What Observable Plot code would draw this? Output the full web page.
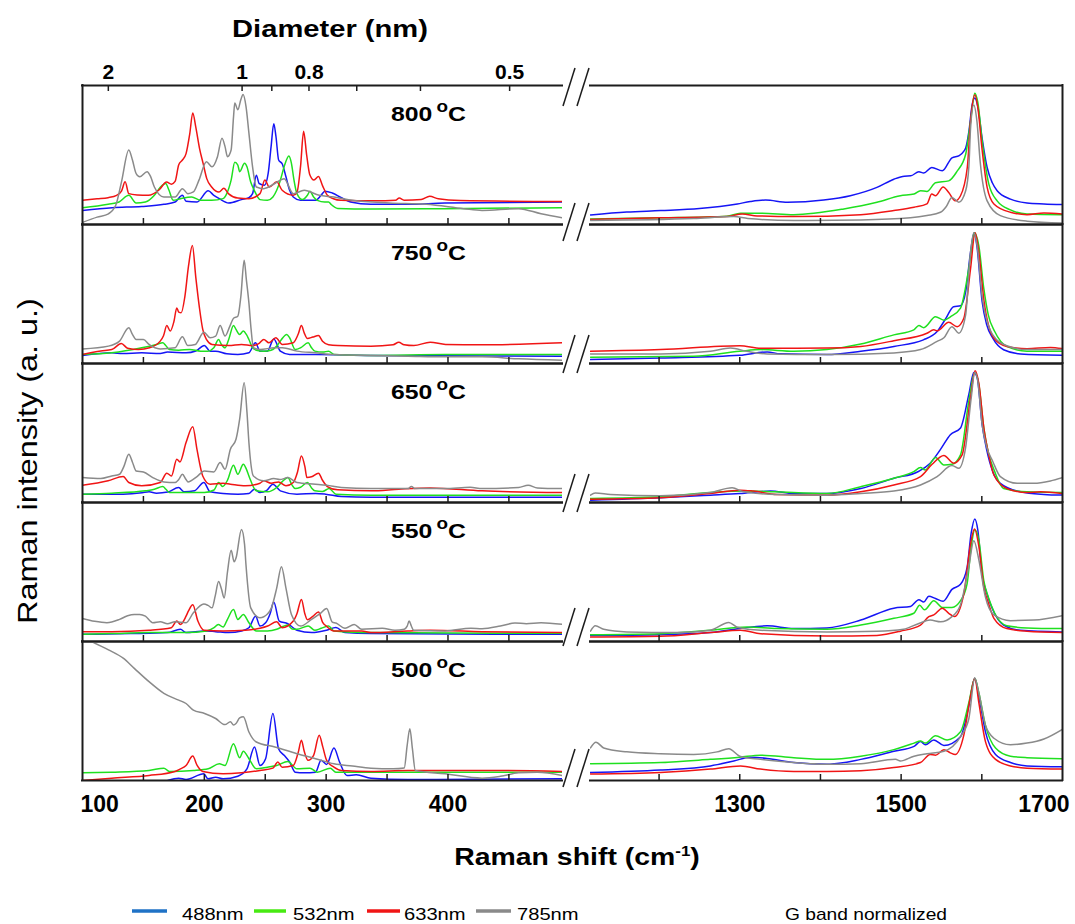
<!DOCTYPE html>
<html>
<head>
<meta charset="utf-8">
<script src="https://cdn.jsdelivr.net/npm/d3@7"></script>
<script src="https://cdn.jsdelivr.net/npm/@observablehq/plot@0.6"></script>
<style>
  html, body { margin: 0; padding: 0; background: #fff; }
  #fig { position: relative; width: 1075px; height: 924px; overflow: hidden; background: #fff; }
</style>
</head>
<body>
<div id="fig"></div>
<script>
// ---- Categories, tick values and labels ----
const temperatures = ["800", "750", "650", "550", "500"];           // growth temperature, °C
const lasers = ["488nm", "532nm", "633nm", "785nm"];                // excitation wavelengths
const lineColors = ["#1515f5", "#1fe01f", "#f01515", "#8a8a8a"];   // spectra colours
const legendColors = ["#1f72c6", "#47ea12", "#f01515", "#8a8a8a"]; // legend swatches
const rbmDomain = [100, 494];        // cm-1, radial breathing mode window
const gDomain = [1115, 1700];        // cm-1, D/G band window
const intensityDomain = [0, 100];    // a.u.
const rbmTicks = [150, 200, 250, 300, 350, 400, 450];
const rbmTickLabels = [100, 200, 300, 400];
const gTicks = [1200, 1300, 1400, 1500, 1600];
const gTickLabels = [1300, 1500, 1700];
const diameterTicks = [2, 1, 0.9, 0.8, 0.7, 0.6, 0.5];   // nm
const diameterLabels = [2, 1, 0.8, 0.5];
// RBM relation used for the diameter axis: shift = A / d + B
const rbmA = 219.6, rbmB = 11.4;

// ---- RBM spectra [Raman shift cm-1, intensity a.u.] ----
const rbm800_488 = [[100,10.1],[124.3,12.1],[148.6,13],[166.8,14.5],[176,16.2],[182,21],[185,16.7],[194,16.2],[203.2,24.2],[207.8,21],[212.3,18.6],[220,15.5],[230.5,17.9],[236.6,19.3],[239.6,22.2],[242.7,35.5],[245,29.5],[249.4,28.3],[252.4,36.7],[254.8,56],[257,72.5],[258.8,63.3],[261,46.4],[264,43.5],[267,34.3],[270,24.6],[273,19.8],[279,17.4],[291.3,17.4],[295.8,21],[299,24],[305,22.7],[312.5,19.3],[320,16.2],[336.8,14.5],[367,14.5],[397.5,15.5],[494,16.2]];
const rbm800_532 = [[100,12.1],[121,14.5],[130,16.2],[138,21],[144,15.5],[151.6,16.2],[159,21],[164,27],[168.3,29.5],[171,24.6],[174.4,17.4],[180.4,18.6],[189.6,19.8],[197,17.4],[206,17.4],[215.4,18.6],[218.4,22.2],[222,31.9],[225,44.7],[227.5,42.8],[229,38],[233,44],[235,41.5],[238,30.7],[241,24.6],[245.7,17.9],[251.8,17.4],[256.3,19.8],[259.4,24.6],[262.4,31.9],[265.5,41.5],[269.4,49.3],[271.5,44],[273.6,31.9],[276,22.2],[280.6,17.9],[284.6,21],[286.7,23.9],[289.7,19.8],[292.8,17.4],[298.8,16.2],[302,16.2],[304,14.5],[309.5,11.6],[336.8,11.1],[397.5,11.4],[494,12.1]];
const rbm800_633 = [[100,17.4],[112,18.5],[121,19.3],[128,21],[132,24],[135,30.7],[138,22.2],[145,21.3],[154,21],[163,25],[169,30.5],[173,29],[176,31],[179,43],[182,46.4],[185,51],[188,65],[190.5,80.2],[193,70],[196,55],[199,44],[202,33],[206,27],[212,23.4],[216,26],[220,22],[227.5,19],[236.6,18.6],[245.7,22.2],[249.7,32],[253.3,27],[259.4,30.7],[263.9,24.6],[273,21],[276,23],[279,42],[281.5,67],[284,50],[286.5,36],[290,32],[293.7,34.5],[297,28],[301,21],[306,18.5],[312,17.4],[340,17],[357,17.5],[360,19],[364,17.5],[378,18],[385,20.3],[392,18.5],[410,17.2],[494,16.5]];
const rbm800_785 = [[100.6,1.7],[112,5.3],[121.3,7.7],[127.3,13.8],[132,30.7],[138,53.6],[141,46.4],[144,36.7],[147,34.3],[153,38],[156,34.3],[159,27],[166.8,19.8],[176,19.8],[182,25.8],[186.5,22.2],[191,23.4],[195.6,31.9],[201.7,45.2],[206.3,41.5],[210.8,48.8],[214.5,62],[217,56],[219,48.8],[222,53.6],[224,77.8],[225,87.4],[227.5,82.6],[230,89.9],[231.8,93.5],[234.2,85],[236.6,65.7],[239.6,41.5],[242.7,27],[248.8,25.8],[257.9,29.5],[265.5,33],[273,22.2],[282,24.6],[294.3,21],[306.4,19.8],[321.6,17.4],[352,15.5],[382.3,14.5],[412.7,11.4],[428,10.1],[458,11.4],[476.4,7.7],[494,4.8]];

const rbm750_488 = [[100,5.8],[124,7.7],[133,7.2],[148.6,7.7],[163.8,7.2],[169.8,8.2],[185,7.7],[193,9],[200,13],[204.7,8.9],[209.3,8.9],[218.4,7],[227.5,6.5],[236.6,7.7],[242,14.9],[245.7,8.9],[251.8,8.9],[257,17.7],[262.4,8.9],[270,6.5],[291.3,6.5],[336.8,5.8],[494,5.3]];
const rbm750_532 = [[100,6.5],[124,7.7],[148.6,11.3],[160.7,13.7],[165.9,14.9],[168.3,13],[171.3,10.1],[179,9.6],[188,10.1],[197,8.9],[203,8.9],[207.8,11.3],[211.7,17.3],[214,13.7],[217,11.3],[220,17.3],[224,27.3],[226,24.5],[229,20.9],[232,23.3],[234.5,20.9],[236.6,17.3],[239.6,11.3],[242.7,9.6],[248.8,8.9],[254.8,9.6],[259.4,12.5],[263.3,17.3],[267.6,20.9],[270,18.5],[274.6,10.1],[279,11.3],[285.2,14.9],[288,11.3],[290.7,8.9],[297.3,8.2],[302,8.9],[306.4,6.5],[336.8,5.8],[397.5,6.5],[494,6.5]];
const rbm750_633 = [[100,6.5],[115,9],[124,10],[131.9,14.4],[137,11],[146,10.1],[155,11.3],[163.8,16.1],[166.5,20],[169.2,27.3],[172,23.3],[175,30],[177.4,40],[179,37],[181,36.5],[184,48],[187,70],[190.2,84.9],[193,62],[196,40],[198.7,24.5],[202,17],[206.3,13.7],[220,12.9],[230.5,13.7],[239.6,12.9],[245,14.5],[248.8,17.3],[253,14.9],[258.7,18.5],[264,13.7],[273,14.9],[277,21],[279.7,27.3],[282,22],[284.6,18],[289,19],[293.7,20.1],[297,16],[302,13.5],[309.5,12.9],[336.8,12.5],[355,13.5],[359.6,15.3],[364,13.5],[372,12.9],[385.4,15.3],[398,13.7],[428,13.4],[494,14.9]];
const rbm750_785 = [[100,10.5],[121.3,12.5],[130.4,16.1],[138,25.7],[141,20.9],[144,17.3],[150,17.3],[154.6,13.7],[163.8,10.5],[176,11.3],[182,19.2],[186.5,12.9],[192.6,13.7],[199.6,22.5],[204.7,18.5],[209.3,19.7],[213,27.3],[217,19.7],[221,26.9],[224,32.6],[227.5,34],[230,48.4],[232.7,74.3],[234.5,60.4],[236.6,43.6],[238.4,24.5],[240.3,11.3],[245.7,10.1],[257.9,11.3],[264,11.3],[276,8.9],[291.3,7.7],[306.4,6.5],[336.8,5.8],[367,5.3],[397.5,4.8],[428,4.8],[458,3.4],[494,2.4]];

const rbm650_488 = [[100,6],[133.4,6],[149,7],[154.6,7.7],[160.7,6.7],[170,7.5],[178.9,10.8],[183.5,7.7],[192,8.5],[199.6,14.4],[204.7,7.7],[215.4,6.5],[227.5,6],[236.6,6.5],[241.2,9.6],[245.7,7.2],[251,8.5],[256.3,13.2],[262.4,8.4],[276,6],[291.3,6.5],[299.5,6],[312.5,4.3],[336.8,3.8],[494,3.8]];
const rbm650_532 = [[100,6],[124,6.7],[151.6,8.4],[159,9.5],[165.9,11.5],[168.5,9.5],[171.3,7.2],[185,7.2],[200,7.2],[208,9],[211.7,14.4],[215,11.5],[219,16],[223.9,26.8],[227.5,20.3],[232,27.5],[234.5,24],[236.6,19.1],[242.7,8.4],[251.8,7.7],[259.4,10.8],[264,15],[268.6,18],[272,12.5],[274.6,10],[279,11],[284.6,14.4],[288,10.5],[290.7,8.4],[297,8],[302.5,10],[308,6],[336.8,5.3],[397.5,5.3],[494,5.3]];
const rbm650_633 = [[100,12.4],[121,15.6],[133.4,18.7],[138,14.4],[148.6,12],[163.8,14.4],[169.2,21.1],[173,19.1],[177.4,31.1],[180,29.2],[185,43.1],[190.5,54.5],[194,38],[198.7,19.1],[204.7,13.2],[215.4,13.9],[221.4,13.2],[233.6,12],[245.7,13.9],[248.8,15.6],[254.8,13.9],[260.9,14.8],[267,12],[273,14.4],[276.5,22],[279.7,33.5],[282.5,26],[284.2,18],[288,18.5],[293.7,21.1],[297,16],[301,11.5],[309.5,9.1],[336.8,8.4],[359.6,9.6],[385.4,10.5],[428,8.4],[494,7.2]];
const rbm650_785 = [[100,17.9],[115,17.2],[124,19.1],[130.4,20.3],[134,26],[138,34.7],[141,29],[144,22.7],[150,22],[157.7,17.9],[166.8,14.8],[176,14.4],[179,16.5],[182,20.3],[185,16.5],[186.5,14.8],[194,18.7],[200,22.7],[207.8,22],[213,28.7],[217,23.9],[221.4,38.3],[226,45.5],[229,60],[232.7,86.1],[235,65],[236.6,43.1],[240.3,19.1],[248.8,15.6],[257,17.2],[262,16.5],[268.6,17.9],[276,14.4],[291.3,13.2],[300.4,12.4],[312.5,10.8],[336.8,10],[367,10],[370,11.5],[373,10],[397.5,10],[418.2,11],[428,10],[458,10.8],[465.8,12.4],[473.4,10.5],[494,10]];

const rbm550_488 = [[100,5.2],[139.5,5.7],[169.8,6.4],[180.4,8.8],[185,6.4],[200.2,7.6],[209.3,7.1],[219.9,6.4],[230.5,7.6],[236.6,9.9],[242.1,18.2],[245.7,11.1],[250.3,13.5],[254,20],[257,28.4],[261.5,14.7],[268.5,12.8],[276,8.1],[288.2,6.4],[300.4,8.1],[308,10],[315.5,6.4],[336.8,5.7],[494,5.2]];
const rbm550_532 = [[100,5.2],[124,5.7],[154.6,6.4],[185,6.4],[201.7,7.6],[208,10],[211.4,12.3],[215.4,10.4],[219,16],[223.9,23],[227.5,15.9],[232,19.4],[236.6,13.5],[242.7,7.6],[251.8,7.6],[259.4,8.8],[265,11],[268.5,11.8],[272,9],[276,8.8],[285.2,11.1],[290.7,8.1],[296,9.5],[302,11.1],[306.4,7.6],[336.8,6.4],[494,5.9]];
const rbm550_633 = [[100,7.1],[124,7.1],[154.6,8.1],[172.9,9.9],[177.4,14.7],[180.4,12.3],[185,18.2],[187,22],[190.5,26.5],[194.7,14.7],[199.6,8.1],[215.4,7.6],[233.6,8.1],[245.7,9.5],[252,11.1],[259.4,14.2],[263.9,9.9],[273,14.7],[276,20],[279.7,30.3],[282.5,20],[284.6,15.6],[289,18],[293.7,21.3],[297,14],[300.4,10.9],[306.4,7.6],[329.2,7.6],[336.8,6.4],[367,7.6],[385.4,8.1],[428,7.1],[494,6.4]];
const rbm550_785 = [[100,16.6],[110,14.5],[120,13.5],[130.4,15.9],[137,18.5],[142.5,19.4],[147,19.4],[151.6,18.2],[157.7,13.5],[163.8,14.2],[169.8,12.8],[175.9,14.2],[185,13.5],[191,20.6],[199.6,27],[203,26],[206.3,24.2],[209,33],[211.7,43.1],[214,38],[216.3,31.3],[219,50],[222,65.6],[224.5,57.3],[226,60],[230.5,80.6],[233,70],[234.2,55],[238.1,24.2],[245.7,17.1],[252,20],[255,24],[259.4,38.4],[263.3,53.8],[267,38.4],[271.5,19.4],[279,11.1],[288,15.9],[295,20],[300.4,23.7],[305,14],[308,13.3],[315.5,9.5],[323,12.3],[329.2,8.8],[346,9.5],[356.5,8.1],[364.1,8.8],[366.5,11],[368.1,14.7],[370,11],[371.7,8.1],[397.5,7.6],[418.8,9.5],[428,9.2],[443,11.1],[455,13.3],[464.3,12.8],[476.4,13.5],[494,12.3]];

const rbm500_488 = [[170,0],[178.9,1.7],[185,0.7],[199.6,4.8],[203,1.2],[209.3,2.4],[215.4,1.2],[227.5,3.1],[235,8.4],[241.2,24.1],[245.7,10.8],[250.3,15.7],[256.3,48.2],[260.9,22.9],[265.5,18.1],[270,13.3],[274.6,6],[282.1,5.5],[291.3,6],[295.8,14.5],[300.4,11.6],[306.4,23.4],[311,13.3],[317.1,3.6],[324.7,4.1],[336.8,1.7],[367,0.7],[494,1.2]];
const rbm500_532 = [[100,5.5],[124,6],[154.6,7.2],[166.8,8.9],[171.3,6.5],[191,7.2],[203.2,8.4],[212.3,12],[217,10.8],[223.9,26.5],[229,16.4],[232,21],[236.6,15.7],[242.7,8.4],[251.8,9.6],[259.4,10.8],[268.5,13.7],[276,8.4],[286.7,8.9],[292.8,6],[303.4,8.9],[308,6],[336.8,6],[494,6]];
const rbm500_633 = [[100,0],[124,1.7],[154.6,3.6],[175.9,6.5],[180.4,8.4],[185,10.8],[190.5,17.6],[194.1,10.8],[198.7,6.5],[215.4,4.8],[230.5,5.5],[245.7,7.2],[256.3,8.9],[260.3,13.3],[263.9,9.6],[273,10.8],[277,20],[279.7,28.9],[282,21],[285.2,14.5],[289.7,18.1],[294.3,32.5],[297.3,24],[300.4,14.5],[306.4,9.6],[312.5,7.2],[336.8,6.5],[367,7.2],[397.5,7.2],[443,7.2],[494,6.5]];
const rbm500_785 = [[100,104],[107.6,100],[121.3,94],[133.4,88],[142.5,80.7],[154.6,71.1],[166.8,62.7],[179,57.8],[185,55.4],[191,50.6],[200.2,48.2],[209.3,44.6],[216.9,40.2],[221.4,42.2],[224,40],[226,41],[229,45],[232,45.8],[236.6,34.9],[242.7,27.7],[257.9,24.1],[276,19.3],[291.3,15.7],[306.4,12],[321.6,10.4],[336.8,8.9],[355,8.4],[364.1,9],[366.5,25.3],[368.7,37.3],[370.8,22.9],[373.2,7.2],[397.5,4.8],[428,1.7],[443,3],[458,5.5],[473.4,6],[494,3.6]];

// ---- G band spectra (normalized) [Raman shift cm-1, intensity a.u.] ----
const g800_488 = [[1115,6.9],[1160,9],[1202,10],[1250,11.5],[1297,14.8],[1313,16.5],[1332,17.6],[1359,16],[1404,17.6],[1437,20.7],[1470,26.7],[1491,32.6],[1504,34.8],[1512,35],[1522,38],[1528,37],[1538,41],[1551,38.6],[1563,48],[1572,49.5],[1578,52.9],[1580,55],[1584,67],[1588,86],[1591.3,91],[1595,85],[1600.4,62],[1606.6,41],[1613,30],[1619,24.3],[1635.5,18.3],[1656,15.5],[1677,14.8],[1700,14.3]];
const g800_532 = [[1115,4],[1202,4.8],[1284,6],[1301,8.1],[1326,8.1],[1367,7.1],[1429,11.2],[1470,16],[1499,20.7],[1516,21.9],[1524,24.3],[1532,23.8],[1542.6,30],[1559,31.4],[1569,38],[1580,50.5],[1586,74],[1591.3,94.5],[1595,88],[1600.4,60],[1608.7,29],[1619,17],[1635.5,10.5],[1656,7.6],[1700,7.1]];
const g800_633 = [[1115,3.6],[1202,4.8],[1284,5.7],[1303,7.6],[1321.5,6.2],[1367,5.7],[1450,7.1],[1491,10],[1516,12.4],[1532,14.8],[1538,21.9],[1542.6,20.7],[1552,27],[1559,23],[1567,17],[1573.6,20.7],[1582,41],[1586,74],[1591.3,93.3],[1595,84.5],[1600.4,53.6],[1606.6,26.7],[1615,14.8],[1635.5,8.8],[1656,7.1],[1677,8.3],[1700,7.6]];
const g800_785 = [[1115,2.9],[1243,4.3],[1292.6,5.7],[1310,4.3],[1367,2.9],[1450,3.3],[1511.6,4.8],[1532,6.4],[1548.7,8.8],[1556,13],[1563,19.5],[1571.5,16],[1580,24.3],[1584,42],[1586,69],[1590,86],[1594,74],[1598,45],[1606.6,17],[1623,6.4],[1656,2.4],[1700,1]];

const g750_488 = [[1115,2.8],[1202,4],[1300,5.9],[1334,8.3],[1350,7],[1408,6.4],[1450,8.8],[1491,12.3],[1527.6,17],[1544.6,23],[1555,32],[1565,40.8],[1573.6,41.5],[1580,51.7],[1586,80],[1590.5,94],[1594,84],[1600.4,44.5],[1606,28],[1613.6,18.2],[1627,9.9],[1648,6.9],[1700,5.9]];
const g750_532 = [[1115,4.5],[1243,5.2],[1300,8.8],[1326,10],[1367,8.8],[1408,10],[1450,14],[1491,20.6],[1515.7,24.2],[1522,27.3],[1528,25.8],[1542.6,33.6],[1553,31.2],[1561,33.6],[1573.6,39.8],[1584,68.7],[1590.9,94],[1596.3,84.6],[1602.5,53.8],[1608,35],[1616,23],[1631,12.3],[1656,8.8],[1700,8.8]];
const g750_633 = [[1115,8.8],[1202,10],[1300,12.8],[1326,11],[1408,11.1],[1450,12.3],[1491,16.4],[1532,21.8],[1540.5,24.2],[1545,23.5],[1559,29.6],[1569.4,26.5],[1577.7,32.5],[1586,68],[1591.7,94],[1596.3,80],[1602.5,46],[1615,18.2],[1631,12.3],[1656,10.7],[1685,11.6],[1700,10.7]];
const g750_785 = [[1115,6.9],[1202,6.9],[1263.6,8.8],[1288.4,11.1],[1309,8.8],[1334,6.9],[1408,6.4],[1491,7.6],[1524,10],[1544.6,15.9],[1553,18.5],[1563,26.5],[1571.5,21.8],[1579.8,34.4],[1586,79.9],[1590.1,94],[1594.2,84.6],[1600.4,48.3],[1613.6,20.6],[1631,12.8],[1656,10],[1700,10]];

const g650_488 = [[1115,1.7],[1201.7,3.4],[1263.6,5.3],[1300,6.5],[1338,8.2],[1367,6.5],[1408,6.5],[1450,10.1],[1491,17.4],[1522,22.5],[1536,28.3],[1548.8,38.2],[1561,48.8],[1573.6,53.6],[1583.9,77.8],[1590.1,93.5],[1594.2,89.9],[1600.4,56],[1606,38],[1613.6,22.2],[1623,13.8],[1648,7.7],[1677,5.8],[1700,5.3]];
const g650_532 = [[1115,2.9],[1201.7,4.1],[1263.6,7.2],[1309,8.2],[1342,7.7],[1408,6.5],[1450,11.4],[1491,17.4],[1515.7,22.2],[1524,25.1],[1530,23.4],[1542.6,32.4],[1553,27],[1563,27.5],[1573.6,34.3],[1583.9,73],[1591.3,93.5],[1596.3,85],[1602.5,53.6],[1608,36],[1616,22.2],[1627,10.1],[1656,7.7],[1700,7.2]];
const g650_633 = [[1115,2.4],[1201.7,3.4],[1263.6,6.5],[1301,8.9],[1317,8.2],[1346,5.8],[1408,5.3],[1450,7.7],[1491,12.6],[1524,18.6],[1538.4,27.5],[1553,33.8],[1565,28.3],[1575.6,34.3],[1586,75.4],[1591.7,94.7],[1596.3,85.7],[1602.5,53.6],[1608,36],[1615,19.8],[1631,10.1],[1656,7.2],[1673,7.7],[1700,6.5]];
const g650_785 = [[1115,5.3],[1121,6.8],[1139.7,5.8],[1201.7,4.8],[1263.6,7.2],[1290.5,10.6],[1305,7.7],[1346,5.8],[1408,5.3],[1450,6.5],[1491,8.2],[1524,12.6],[1544.6,18.6],[1563,26.6],[1571.5,24.6],[1579.8,39.1],[1586.8,75],[1591.3,93.5],[1595,87.5],[1600.4,56],[1606,40],[1613.6,29.5],[1623,18.6],[1643.8,13.8],[1664.5,13.8],[1685,15.5],[1700,17.9]];

const g550_488 = [[1115,4.4],[1201.7,4.9],[1263.6,6.4],[1300,9.3],[1334,11.3],[1367,9.3],[1408,9.8],[1450,15.4],[1491,24],[1511.6,25.2],[1522,30.1],[1528,28.4],[1534.3,32.6],[1542.6,30.9],[1552,28.9],[1563,37.5],[1573.6,41.2],[1581.8,53.4],[1586.8,77.9],[1591.3,88.2],[1595,80.4],[1600.4,48],[1606,35],[1613.6,22.8],[1627,11.8],[1648,8.1],[1700,6.9]];
const g550_532 = [[1115,4.9],[1201.7,5.6],[1263.6,8.1],[1309,10.5],[1346,9.3],[1408,8.8],[1450,11.8],[1491,16.7],[1515.7,20.3],[1523,26],[1529,22.8],[1540.5,29.4],[1551,24.5],[1563,24.5],[1573.6,29.4],[1581.8,41.7],[1586.8,68],[1591.3,80.4],[1596.3,73],[1602.5,43.6],[1608,32],[1616,20.3],[1631,11.3],[1656,9.8],[1700,9.3]];
const g550_633 = [[1115,3.2],[1201.7,3.7],[1263.6,6.4],[1301,8.1],[1326,5.6],[1408,3.9],[1470,4.4],[1499,7.4],[1524,11.8],[1534.3,17.9],[1540.5,19.1],[1551,24],[1559,20.3],[1566,17.9],[1577.7,34.3],[1586,70.1],[1590.9,80.9],[1596.3,68.6],[1602.5,39.2],[1608,28],[1615,16.7],[1631,9.3],[1656,7.4],[1700,6.4]];
const g550_785 = [[1115,7.4],[1121,11.3],[1131.4,8.8],[1160,6.9],[1222,6.4],[1263.6,8.1],[1286.4,13.7],[1297,10.3],[1326,8.1],[1408,6.9],[1470,7.4],[1503,8.8],[1522,13],[1536,15.4],[1549,14.2],[1563,17.9],[1573.6,26.5],[1583.9,53.9],[1590.1,72.5],[1596.3,58.8],[1604.5,31.9],[1615,19.1],[1635.5,15],[1664.5,15.4],[1700,18.6]];

const g500_488 = [[1115,5.8],[1201.7,7.5],[1263.6,10.5],[1292.6,14],[1313,16.8],[1333.9,15.9],[1367,12.9],[1408,11.7],[1450,15.2],[1491,21],[1516,24.5],[1524,28],[1530,25.7],[1540.5,29.2],[1553,25.2],[1573.6,31.5],[1583.9,53.7],[1591.3,73.6],[1596.3,60.7],[1604.5,35],[1617,18.7],[1635.5,12.9],[1656,10.5],[1700,9.8]];
const g500_532 = [[1115,12.1],[1201.7,12.9],[1263.6,15.2],[1300,16.8],[1326,18.2],[1367,16.4],[1408,15.2],[1450,17.5],[1491,22.2],[1516,26.9],[1524,28.5],[1530,26.9],[1542.6,32.2],[1557,29.2],[1573.6,35],[1583.9,56],[1591.3,73.6],[1596.3,63.1],[1604.5,39.7],[1617,23.4],[1635.5,17.5],[1656,16.4],[1700,15.7]];
const g500_633 = [[1115,4.7],[1201.7,5.8],[1263.6,8.2],[1301,10.5],[1325.6,8.2],[1367,6.5],[1408,6.5],[1450,7],[1491,9.3],[1524,12.9],[1536,18.7],[1542.6,18.2],[1553,22.2],[1561,19.9],[1567,18.7],[1577.7,32.7],[1586,60.7],[1591.3,73.6],[1596.3,56],[1604.5,28],[1617,15.2],[1635.5,10.5],[1656,8.9],[1700,8.2]];
const g500_785 = [[1115,23.4],[1121.8,27.6],[1131.4,23.4],[1160,20.6],[1201.7,19.2],[1243,18.7],[1271.9,20.6],[1286.4,22.9],[1300,17.5],[1325.6,15.2],[1367,12.9],[1408,11.7],[1450,12.1],[1493,15.2],[1499,14],[1516,17.5],[1532,19.2],[1553,21],[1573.6,31.5],[1583.9,44.4],[1591.3,73.6],[1596.3,63.1],[1604.5,39.7],[1615,30.4],[1635.5,25.7],[1656,26.9],[1677,29.9],[1700,36.9]];

// one row per temperature, one series per laser (same order as `lasers`)
const rbmRows = [
  [rbm800_488, rbm800_532, rbm800_633, rbm800_785],
  [rbm750_488, rbm750_532, rbm750_633, rbm750_785],
  [rbm650_488, rbm650_532, rbm650_633, rbm650_785],
  [rbm550_488, rbm550_532, rbm550_633, rbm550_785],
  [rbm500_488, rbm500_532, rbm500_633, rbm500_785]
];
const gRows = [
  [g800_488, g800_532, g800_633, g800_785],
  [g750_488, g750_532, g750_633, g750_785],
  [g650_488, g650_532, g650_633, g650_785],
  [g550_488, g550_532, g550_633, g550_785],
  [g500_488, g500_532, g500_633, g500_785]
];

// ---- Layout ----
const font = "'Liberation Sans', Arial, Helvetica, sans-serif";
const ink = "#1c1c1c";
const leftX = 82, leftW = 480;
const rightX = 590, rightW = 472;
const plotTop = 85, rowH = 139;
const tickLen = 6;
const rbmShift = d => rbmA / d + rbmB;

const fig = document.getElementById("fig");

function place(node, left, top) {
  const wrap = document.createElement("div");
  wrap.style.cssText = `position:absolute;left:${left}px;top:${top}px;`;
  wrap.appendChild(node);
  fig.appendChild(wrap);
}

function spectrumPanel({series, domain, ticks, width, edge, diameter, labels}) {
  const marks = series.map((pts, i) => Plot.line(pts, {
    x: p => p[0], y: p => p[1],
    stroke: lineColors[i], strokeWidth: 1.5,
    curve: "monotone-x", clip: true
  }));
  marks.push(
    Plot.ruleY(intensityDomain, {stroke: ink, strokeWidth: 2, strokeLinecap: "square"}),
    Plot.ruleX([edge], {stroke: ink, strokeWidth: 2, strokeLinecap: "square"}),
    Plot.tickX(ticks, {x: d => d, insetTop: rowH - tickLen, stroke: ink, strokeWidth: 1.5})
  );
  if (diameter) {
    marks.push(
      Plot.tickX(diameterTicks, {x: d => rbmShift(d), insetBottom: rowH - tickLen, stroke: ink, strokeWidth: 1.5}),
      Plot.text(diameterLabels, {
        x: d => rbmShift(d), text: d => String(d),
        frameAnchor: "top", lineAnchor: "top", dy: -21,
        fontSize: 21, fontWeight: "bold", fontFamily: font, fill: "#000"
      })
    );
  }
  if (labels) {
    // end labels are kept inside the frame
    const anchorOf = v => v === domain[0] ? "start" : v === domain[1] ? "end" : "middle";
    for (const anchor of ["start", "middle", "end"]) {
      marks.push(Plot.text(labels.filter(v => anchorOf(v) === anchor), {
        x: d => d, text: d => String(d),
        frameAnchor: "bottom", lineAnchor: "top", dy: 15,
        dx: anchor === "start" ? -2 : anchor === "end" ? 7 : 0,
        textAnchor: anchor,
        fontSize: 23, fontWeight: "bold", fontFamily: font, fill: "#000"
      }));
    }
  }
  return Plot.plot({
    width, height: rowH, margin: 0,
    x: {domain, axis: null},
    y: {domain: intensityDomain, axis: null},
    style: "overflow: visible; background: transparent;",
    marks
  });
}

temperatures.forEach((t, row) => {
  const top = plotTop + row * rowH;
  const last = row === temperatures.length - 1;
  place(spectrumPanel({
    series: rbmRows[row], domain: rbmDomain, ticks: rbmTicks, width: leftW,
    edge: rbmDomain[0], diameter: row === 0, labels: last ? rbmTickLabels : null
  }), leftX, top);
  place(spectrumPanel({
    series: gRows[row], domain: gDomain, ticks: gTicks, width: rightW,
    edge: gDomain[1], diameter: false, labels: last ? gTickLabels : null
  }), rightX, top);
});

// ---- Titles, panel labels, axis breaks and legend ----
const svg = d3.select(fig).append("svg")
  .attr("width", 1075).attr("height", 924)
  .style("position", "absolute").style("left", "0px").style("top", "0px")
  .style("pointer-events", "none")
  .attr("font-family", font);

svg.append("text")
  .attr("transform", "translate(330,37) scale(1.24,1)")
  .attr("text-anchor", "middle").attr("font-size", 23.5).attr("font-weight", "bold")
  .text("Diameter (nm)");

const xTitle = svg.append("text")
  .attr("transform", "translate(577,865) scale(1.21,1)")
  .attr("text-anchor", "middle").attr("font-size", 23.5).attr("font-weight", "bold");
xTitle.append("tspan").text("Raman shift (cm");
xTitle.append("tspan").attr("font-size", 14).attr("dy", -9).text("-1");
xTitle.append("tspan").attr("dy", 9).text(")");

svg.append("text")
  .attr("transform", "translate(37,461) rotate(-90) scale(1.2,1)")
  .attr("text-anchor", "middle").attr("font-size", 27)
  .text("Raman intensity (a. u.)");

temperatures.forEach((t, row) => {
  const base = plotTop + row * rowH + 36;
  const label = svg.append("text")
    .attr("transform", `translate(391,${base}) scale(1.18,1)`)
    .attr("font-size", 21).attr("font-weight", "bold");
  label.append("tspan").text(t);
  label.append("tspan").attr("font-size", 16).attr("dx", 3.5).attr("dy", -9).text("o");
  label.append("tspan").attr("dy", 9).text("C");
});

// axis break marks between the two spectral windows
const breakCenters = [87, 222, 354, 493, 627, 768];
breakCenters.forEach(c => {
  [0, 14].forEach(off => {
    svg.append("line")
      .attr("x1", 563 + off).attr("y1", c + 19)
      .attr("x2", 575 + off).attr("y2", c - 19)
      .attr("stroke", ink).attr("stroke-width", 1.5);
  });
});

// legend
const swatchX = [[132, 167], [254, 286], [367, 400], [476, 511]];
const legendTextX = [182, 293, 404, 517];
lasers.forEach((name, i) => {
  svg.append("line")
    .attr("x1", swatchX[i][0]).attr("x2", swatchX[i][1])
    .attr("y1", 911).attr("y2", 911)
    .attr("stroke", legendColors[i]).attr("stroke-width", 3.5);
  svg.append("text")
    .attr("transform", `translate(${legendTextX[i]},920) scale(1.26,1)`)
    .attr("font-size", 16)
    .text(name);
});
svg.append("text")
  .attr("transform", "translate(866,920) scale(1.2,1)")
  .attr("text-anchor", "middle").attr("font-size", 16)
  .text("G band normalized");
</script>
</body>
</html>
